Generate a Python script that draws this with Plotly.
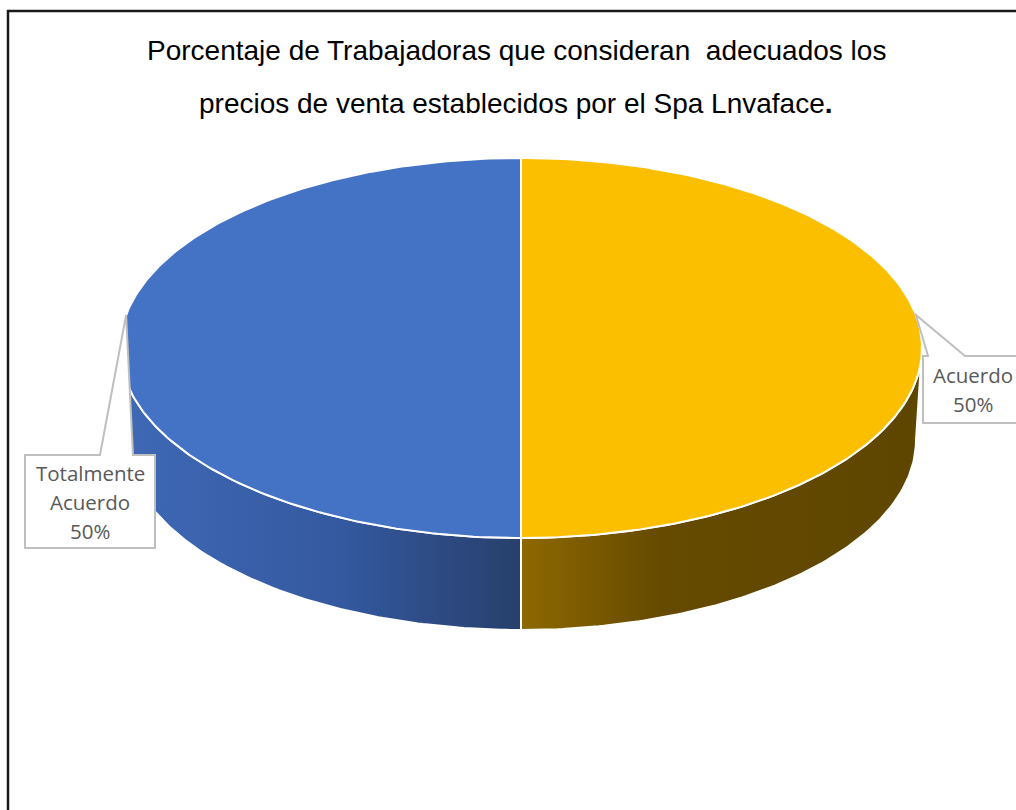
import numpy as np
import plotly.graph_objects as go

# ---- data ----
categories = ["Acuerdo", "Totalmente Acuerdo"]
values = [50, 50]
top_colors = ["#FCBF00", "#4472C4"]
wall_colorscales = [
    [[0.0, "#8E6800"], [0.35, "#654A00"], [1.0, "#5F4600"]],
    [[0.0, "#3F69B6"], [0.55, "#3459A0"], [1.0, "#273F6B"]],
]
title_lines = [
    "Porcentaje de Trabajadoras que consideran\u00a0 adecuados los",
    "precios de venta establecidos por el Spa Lnvaface<b>.</b>",
]

# ---- geometry of the tilted pie (pixel space) ----
W, H = 1016, 810
CX = 521
TOP_CY, TOP_RX, TOP_RY = 348, 401, 190
BOT_CY, BOT_RX, BOT_RY = 440, 395, 190

# callout boxes: (x0, y0, x1, y1), pointer base on the top edge, apex tilt
callouts = [
    dict(box=(923, 356, 1022, 423), base=(928, 965), tilt=-10),
    dict(box=(25, 455, 155, 548), base=(100, 133), tilt=10),
]
LABEL_FONT = dict(family="'Open Sans', Lato, sans-serif", size=20.5, color="#595959")
LINE_GAP = 29
TITLE_FONT = dict(family="'Liberation Sans', Arial, sans-serif", size=28, color="#000000")


def top_pt(phi):
    r = np.radians(phi)
    return CX + TOP_RX * np.sin(r), TOP_CY - TOP_RY * np.cos(r)


def bot_pt(phi):
    r = np.radians(phi)
    return CX + BOT_RX * np.sin(r), BOT_CY - BOT_RY * np.cos(r)


total = float(sum(values))
bounds = []
start = 0.0
for v in values:
    span = 360.0 * v / total
    bounds.append((start, start + span))
    start += span

fig = go.Figure()

# side walls (only the front half, 90..270 degrees clockwise from 12 o'clock)
for (a, b), cs in zip(bounds, wall_colorscales):
    lo, hi = max(a, 90.0), min(b, 270.0)
    if lo >= hi:
        continue
    phis = np.linspace(lo, hi, 120)
    tx, ty = top_pt(phis)
    bx, by = bot_pt(phis[::-1])
    xs = np.concatenate([tx, bx, tx[:1]])
    ys = np.concatenate([ty, by, ty[:1]])
    fig.add_trace(go.Scatter(
        x=xs, y=ys, mode="lines", fill="toself",
        fillgradient=dict(type="horizontal", colorscale=cs),
        line=dict(color="white", width=2),
        hoverinfo="skip", showlegend=False,
    ))

# top faces
for (a, b), col, name in zip(bounds, top_colors, categories):
    phis = np.linspace(a, b, 240)
    tx, ty = top_pt(phis)
    xs = np.concatenate([[CX], tx, [CX]])
    ys = np.concatenate([[TOP_CY], ty, [TOP_CY]])
    fig.add_trace(go.Scatter(
        x=xs, y=ys, mode="lines", fill="toself", fillcolor=col,
        line=dict(color="white", width=2),
        name=name, hoverinfo="skip", showlegend=False,
    ))

# data-label callouts
shapes = []
annotations = []
for (a, b), name, v, co in zip(bounds, categories, values, callouts):
    mid = (a + b) / 2.0
    ax_, ay_ = top_pt(mid + co["tilt"])
    x0, y0, x1, y1 = co["box"]
    b0, b1 = co["base"]
    path = (f"M {x0},{y0} L {b0},{y0} L {ax_:.1f},{ay_:.1f} L {b1},{y0} "
            f"L {x1},{y0} L {x1},{y1} L {x0},{y1} Z")
    shapes.append(dict(type="path", path=path, xref="x", yref="y",
                       line=dict(color="#BFBFBF", width=2), fillcolor="white",
                       layer="above"))
    pct = round(100.0 * v / total)
    lines = name.split() + [f"{pct}%"]
    cx = (x0 + x1) / 2.0
    cy = (y0 + y1) / 2.0
    n = len(lines)
    for i, t in enumerate(lines):
        annotations.append(dict(
            x=cx, y=cy + (i - (n - 1) / 2.0) * LINE_GAP, xref="x", yref="y",
            text=t, showarrow=False, font=LABEL_FONT,
            xanchor="center", yanchor="middle",
        ))

# title
for i, t in enumerate(title_lines):
    annotations.append(dict(
        x=516, y=50 + i * 53, xref="x", yref="y", text=t, showarrow=False,
        font=TITLE_FONT, xanchor="center", yanchor="middle",
    ))

# outer chart frame
shapes.append(dict(type="rect", xref="x", yref="y", x0=8, y0=11, x1=W + 20, y1=H + 20,
                   line=dict(color="#1A1A1A", width=2.5), fillcolor="rgba(0,0,0,0)",
                   layer="above"))

fig.update_layout(
    width=W, height=H, autosize=False,
    margin=dict(l=0, r=0, t=0, b=0),
    paper_bgcolor="white", plot_bgcolor="white",
    xaxis=dict(range=[0, W], visible=False, fixedrange=True),
    yaxis=dict(range=[H, 0], visible=False, fixedrange=True),
    shapes=shapes, annotations=annotations,
    showlegend=False,
)

fig.write_html("out.html")
